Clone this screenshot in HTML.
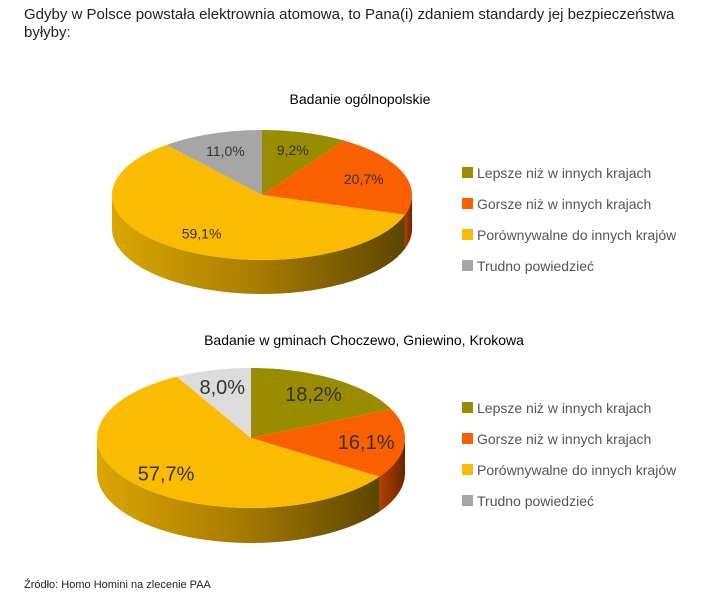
<!DOCTYPE html>
<html><head><meta charset="utf-8">
<style>
body{margin:0;width:720px;height:595px;background:#fff;overflow:hidden;font-family:"Liberation Sans",sans-serif}
svg{position:absolute;left:0;top:0}
</style></head>
<body>
<svg id="chart" width="720" height="595">
<defs>
<linearGradient id="gy" x1="0" x2="1" y1="0" y2="0"><stop offset="0" stop-color="#dba600"/><stop offset="0.5" stop-color="#a87c00"/><stop offset="1" stop-color="#5c4500"/></linearGradient>
<linearGradient id="go" x1="0" x2="1"><stop offset="0" stop-color="#b34000"/><stop offset="1" stop-color="#6a2500"/></linearGradient>
<linearGradient id="gg" x1="0" x2="1"><stop offset="0" stop-color="#7a7a00"/><stop offset="1" stop-color="#4a4a00"/></linearGradient>
<linearGradient id="gr" x1="0" x2="1"><stop offset="0" stop-color="#888"/><stop offset="1" stop-color="#555"/></linearGradient>
</defs>
<text x="24" y="19" font-size="15" fill="#222">Gdyby w Polsce powstała elektrownia atomowa, to Pana(i) zdaniem standardy jej bezpieczeństwa</text>
<text x="24" y="37" font-size="15" fill="#222">byłyby:</text>
<text x="360" y="104" font-size="14" fill="#000" text-anchor="middle">Badanie ogólnopolskie</text>
<text x="364" y="345" font-size="14" fill="#000" text-anchor="middle">Badanie w gminach Choczewo, Gniewino, Krokowa</text>
<text x="24" y="588" font-size="11" fill="#222">Źródło: Homo Homini na zlecenie PAA</text>
<g id="pies"></g>
</svg>
<script>
const categories=["Lepsze niż w innych krajach","Gorsze niż w innych krajach","Porównywalne do innych krajów","Trudno powiedzieć"];
const valuesNational=[9.2,20.7,59.1,11.0];
const valuesLocal=[18.2,16.1,57.7,8.0];
const labelsNational=["9,2%","20,7%","59,1%","11,0%"];
const labelsLocal=["18,2%","16,1%","57,7%","8,0%"];
const colors=["#9a8c00","#fa5f00","#fbbb00","#a6a6a6"];
const colors2=["#9a8c00","#fa5f00","#fbbb00","#dcdcdc"];
const sideFills=["url(#gg)","url(#go)","url(#gy)","url(#gr)"];
const NS="http://www.w3.org/2000/svg";
const root=document.getElementById('pies');
function mk(t,a,p){const e=document.createElementNS(NS,t);for(const k in a)e.setAttribute(k,a[k]);(p||root).appendChild(e);return e;}
function drawPie(vals,labels,cols,cx,cy,rx,ry,depth,fs,lr,legX,legY,legStep,id){
  const g=mk('g',{});
  
  
  const tot=vals.reduce((a,b)=>a+b,0);
  const P=(t,dy)=>[cx+rx*Math.sin(t),cy-ry*Math.cos(t)+(dy||0)];
  let a=0;const segs=[];
  vals.forEach(v=>{const b=a+v/tot*2*Math.PI;segs.push([a,b]);a=b;});
  // sides
  segs.forEach(([s,e],i)=>{
    const s2=Math.max(s,Math.PI/2),e2=Math.min(e,Math.PI*1.5);
    if(e2<=s2)return;
    let d="M"+P(s2).join(",");
    const n=40;
    for(let k=1;k<=n;k++)d+="L"+P(s2+(e2-s2)*k/n).join(",");
    for(let k=n;k>=0;k--)d+="L"+P(s2+(e2-s2)*k/n,depth).join(",");
    const p=mk('path',{d:d+"Z",fill:sideFills[i]},g);
    
    
  });
  segs.forEach(([s,e],i)=>{
    let d="M"+cx+","+cy+"L"+P(s).join(",");
    const n=60;
    for(let k=1;k<=n;k++)d+="L"+P(s+(e-s)*k/n).join(",");
    const p=mk('path',{d:d+"Z",fill:cols[i]},g);
    
    
    const m=(s+e)/2;const L=[cx+rx*lr*Math.sin(m),cy-ry*lr*Math.cos(m)];
    const t=mk('text',{x:L[0],y:L[1]+fs*0.35,'font-size':fs,fill:'#333','text-anchor':'middle'},g);
    t.textContent=labels[i];
    
    
  });
  categories.forEach((c,i)=>{
    const y=legY+i*legStep;
    const r=mk('rect',{x:legX,y:y-6,width:11,height:11,fill:colors[i]},g);
    
    
    const t=mk('text',{x:legX+15,y:y+5,'font-size':14,fill:'#555'},g);
    t.textContent=c;
    
    
  });
}
drawPie(valuesNational,labelsNational,colors,262,195,150,65,34,14,0.72,462,173,31,'pie-national');
drawPie(valuesLocal,labelsLocal,colors2,251,438,154,70,35,20,0.75,462,408,31,'pie-local');
</script>
</body></html>
